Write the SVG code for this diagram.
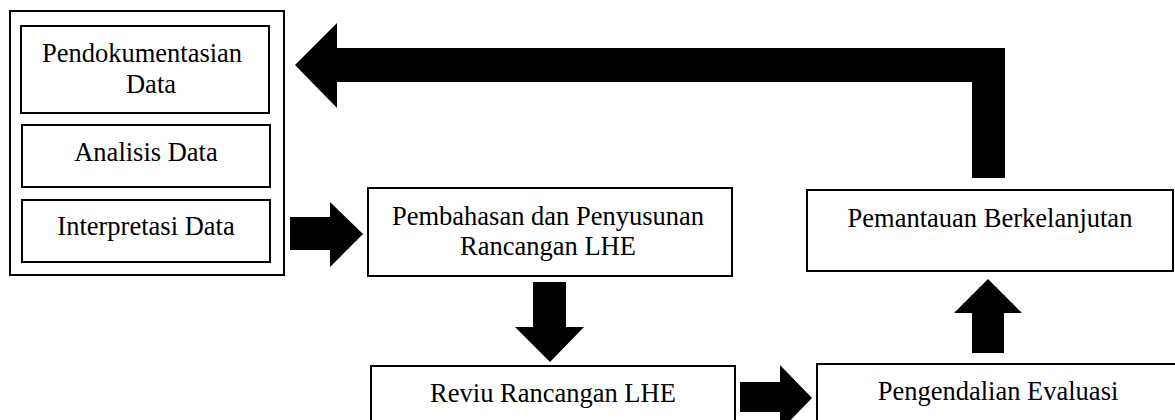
<svg xmlns="http://www.w3.org/2000/svg" width="1175" height="420" viewBox="0 0 1175 420">
<style>
.box{fill:#fff;stroke:#000;stroke-width:2}
.outer{fill:#fff;stroke:#000;stroke-width:2}
.t{font-family:"Liberation Serif","Times New Roman",serif;font-size:26.5px;fill:#000;text-anchor:middle}
.arr{fill:#000;stroke:none}
</style>
<rect width="1175" height="420" fill="#fff"/>
<g id="group-left">
<rect class="outer" x="10" y="11" width="274" height="264"/>
</g>
<g id="node-pendokumentasian">
<rect class="box" x="21" y="26" width="248" height="87"/>
<text class="t" x="142" y="62">Pendokumentasian</text>
<text class="t" x="151" y="93">Data</text>
</g>
<g id="node-analisis">
<rect class="box" x="22" y="125" width="248" height="62"/>
<text class="t" x="146" y="161">Analisis Data</text>
</g>
<g id="node-interpretasi">
<rect class="box" x="22" y="200" width="248" height="62"/>
<text class="t" x="146" y="235">Interpretasi Data</text>
</g>
<g id="node-pembahasan">
<rect class="box" x="368" y="188" width="364" height="88"/>
<text class="t" x="548" y="225">Pembahasan dan Penyusunan</text>
<text class="t" x="548" y="255">Rancangan LHE</text>
</g>
<g id="node-reviu">
<rect class="box" x="371" y="366" width="364" height="70"/>
<text class="t" x="553" y="402">Reviu Rancangan LHE</text>
</g>
<g id="node-pengendalian">
<rect class="box" x="817" y="364" width="370" height="70"/>
<text class="t" x="998" y="400">Pengendalian Evaluasi</text>
</g>
<g id="node-pemantauan">
<rect class="box" x="807" y="190" width="366" height="81"/>
<text class="t" x="990" y="227">Pemantauan Berkelanjutan</text>
</g>
<g id="connectors">
<polygon class="arr" points="290,217 330,217 330,202 363,234 330,267 330,250 290,250"/>
<polygon class="arr" points="533,282 566,282 566,327 584,327 550,362 515,327 533,327"/>
<polygon class="arr" points="740,382 780,382 780,365 812,398 780,431 780,412 740,412"/>
<polygon class="arr" points="972,353 1004,353 1004,313 1022,313 988,279 954,313 972,313"/>
<polygon class="arr" points="337,48 1005,48 1005,178 972,178 972,82 337,82 337,108 295,65 337,23"/>
</g>
</svg>
